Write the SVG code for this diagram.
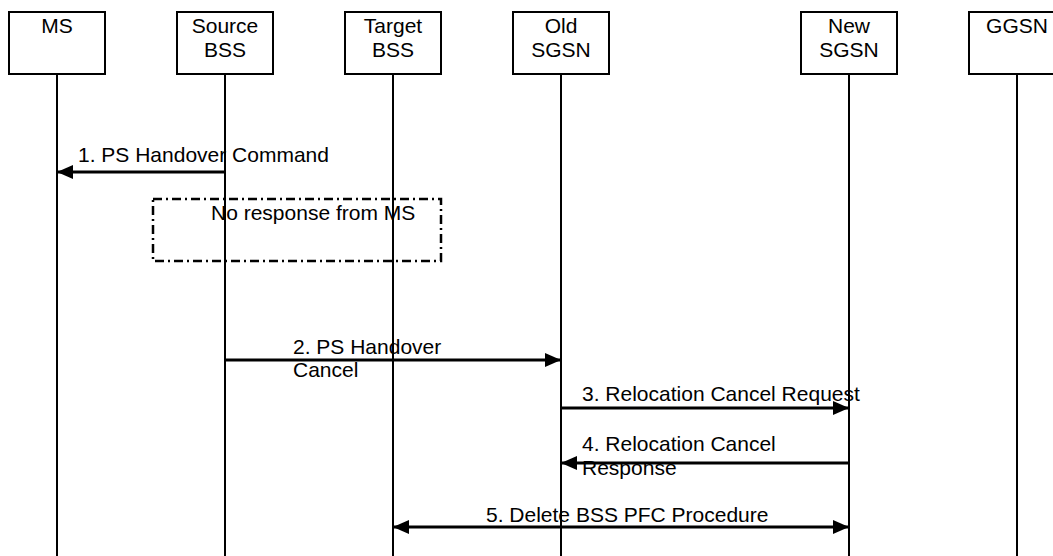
<svg xmlns="http://www.w3.org/2000/svg" width="1053" height="556" viewBox="0 0 1053 556">
<style>
text{font-family:"Liberation Sans",Arial,sans-serif;font-size:21px;fill:#000}
.box{fill:#fff;stroke:#000;stroke-width:2}
.life{stroke:#000;stroke-width:2}
.msg{stroke:#000;stroke-width:3;fill:none}
.lbl{text-anchor:middle}
</style>
<defs>
<marker id="ah" viewBox="0 0 16 14" refX="16" refY="7" markerWidth="16" markerHeight="14" markerUnits="userSpaceOnUse" orient="auto-start-reverse">
<path d="M0,0 L16,7 L0,14 Z" fill="#000"/>
</marker>
</defs>
<rect width="1053" height="556" fill="#fff"/>
<g id="lifelines">
<line class="life" x1="57" y1="74" x2="57" y2="556"/>
<line class="life" x1="225" y1="74" x2="225" y2="556"/>
<line class="life" x1="393" y1="74" x2="393" y2="556"/>
<line class="life" x1="561" y1="74" x2="561" y2="556"/>
<line class="life" x1="849" y1="74" x2="849" y2="556"/>
<line class="life" x1="1017" y1="74" x2="1017" y2="556"/>
</g>
<g id="node-ms"><rect class="box" x="9" y="12" width="96" height="62"/><text class="lbl" x="57" y="33">MS</text></g>
<g id="node-source-bss"><rect class="box" x="177" y="12" width="96" height="62"/><text class="lbl" x="225" y="33">Source</text><text class="lbl" x="225" y="57">BSS</text></g>
<g id="node-target-bss"><rect class="box" x="345" y="12" width="96" height="62"/><text class="lbl" x="393" y="33">Target</text><text class="lbl" x="393" y="57">BSS</text></g>
<g id="node-old-sgsn"><rect class="box" x="513" y="12" width="96" height="62"/><text class="lbl" x="561" y="33">Old</text><text class="lbl" x="561" y="57">SGSN</text></g>
<g id="node-new-sgsn"><rect class="box" x="801" y="12" width="96" height="62"/><text class="lbl" x="849" y="33">New</text><text class="lbl" x="849" y="57">SGSN</text></g>
<g id="node-ggsn"><rect class="box" x="969" y="12" width="96" height="62"/><text class="lbl" x="1017" y="33">GGSN</text></g>
<g id="note-no-response">
<rect x="153" y="199" width="288" height="62" fill="none" stroke="#000" stroke-width="2.5" stroke-dasharray="9,4,2,4"/>
<text x="211" y="220">No response from MS</text>
</g>
<g id="connectors">
<line class="msg" x1="225" y1="172" x2="57" y2="172" marker-end="url(#ah)"/>
<line class="msg" x1="225" y1="360" x2="561" y2="360" marker-end="url(#ah)"/>
<line class="msg" x1="561" y1="408" x2="849" y2="408" marker-end="url(#ah)"/>
<line class="msg" x1="849" y1="463" x2="561" y2="463" marker-end="url(#ah)"/>
<line class="msg" x1="393" y1="527" x2="849" y2="527" marker-start="url(#ah)" marker-end="url(#ah)"/>
</g>
<g id="labels">
<text x="78" y="162">1. PS Handover Command</text>
<text x="293" y="354">2. PS Handover</text>
<text x="293" y="377">Cancel</text>
<text x="582" y="401">3. Relocation Cancel Request</text>
<text x="582" y="451">4. Relocation Cancel</text>
<text x="582" y="475">Response</text>
<text x="486" y="522">5. Delete BSS PFC Procedure</text>
</g>
</svg>
